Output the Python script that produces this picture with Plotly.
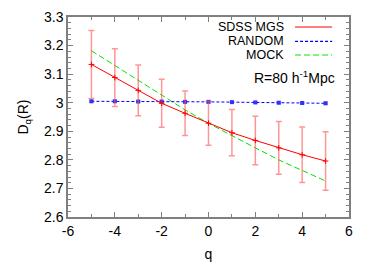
import plotly.graph_objects as go

q = [-5, -4, -3, -2, -1, 0, 1, 2, 3, 4, 5]
sdss = [3.134, 3.088, 3.043, 2.998, 2.963, 2.928, 2.895, 2.868, 2.842, 2.818, 2.796]
sdss_err = [0.119, 0.101, 0.089, 0.084, 0.078, 0.077, 0.081, 0.085, 0.092, 0.097, 0.102]
random_ = [3.005, 3.005, 3.004, 3.004, 3.003, 3.003, 3.002, 3.001, 3.000, 2.999, 2.998]
random_err = [0.004, 0.003, 0.003, 0.003, 0.003, 0.003, 0.003, 0.003, 0.003, 0.003, 0.004]
mock = [3.182, 3.130, 3.077, 3.025, 2.975, 2.928, 2.884, 2.842, 2.800, 2.762, 2.726]

legend_names = ["SDSS MGS", "RANDOM", "MOCK"]
x_ticks = [-6, -4, -2, 0, 2, 4, 6]
y_ticks = [2.6, 2.7, 2.8, 2.9, 3.0, 3.1, 3.2, 3.3]
y_tick_text = ["2.6", "2.7", "2.8", "2.9", "3", "3.1", "3.2", "3.3"]

FONT = "Liberation Sans, Arial, Helvetica, sans-serif"
FS = 14
KFS = 12.5

fig = go.Figure()
fig.add_trace(go.Scatter(
    x=q, y=mock, mode="lines", name=legend_names[2],
    line=dict(color="#00e600", width=1, dash="6px,3px"), showlegend=False))
fig.add_trace(go.Scatter(
    x=q, y=random_, mode="lines+markers", name=legend_names[1],
    line=dict(color="#0000ff", width=1, dash="3px,2px"),
    marker=dict(symbol="square", size=4, color="#3030ff"),
    error_y=dict(type="data", array=random_err, color="rgba(60,60,255,0.6)", thickness=1.2, width=2),
    showlegend=False))
fig.add_trace(go.Scatter(
    x=q, y=sdss, mode="lines+markers", name=legend_names[0],
    line=dict(color="#ff0000", width=1),
    marker=dict(symbol="cross-thin", size=4, color="#ff0000", line=dict(color="#ff0000", width=1)),
    error_y=dict(type="data", array=sdss_err, color="rgba(255,80,80,0.6)", thickness=1.5, width=3),
    showlegend=False))

# custom gnuplot-style key (text left of line sample)
key_y = [0.95, 0.8785, 0.81]
key_styles = [dict(color="#ff0000", width=1.2), dict(color="#0000ff", width=1.2, dash="3px,2px"),
              dict(color="#00e600", width=1.2, dash="6px,3px")]
for name, yy, st in zip(legend_names, key_y, key_styles):
    fig.add_annotation(xref="paper", yref="paper", x=0.776, y=yy, text=name,
                       showarrow=False, xanchor="right", yanchor="middle",
                       font=dict(family=FONT, size=KFS, color="black"))
    fig.add_shape(type="line", xref="paper", yref="paper", x0=0.808, x1=0.94, y0=yy, y1=yy,
                  line=st)
fig.add_annotation(xref="paper", yref="paper", x=0.956, y=0.70,
                   text="R=80 h<sup>-1</sup>Mpc", showarrow=False, xanchor="right",
                   yanchor="middle", font=dict(family=FONT, size=FS, color="black"))

axis_common = dict(showline=True, linecolor="#808080", linewidth=1.5, mirror="ticks",
                   ticks="inside", ticklen=5, tickcolor="#808080", tickwidth=1,
                   showgrid=False, zeroline=False, automargin=False,
                   tickfont=dict(family=FONT, size=FS, color="black"))
fig.update_xaxes(range=[-6, 6], tickvals=x_ticks, ticktext=[str(v) for v in x_ticks],
                 minor=dict(ticks="inside", dtick=1, ticklen=3, tickcolor="#808080"),
                 title=dict(text="q", font=dict(family=FONT, size=FS, color="black"), standoff=16),
                 **axis_common)
fig.update_yaxes(range=[2.6, 3.3], tickvals=y_ticks, ticktext=y_tick_text,
                 minor=dict(ticks="inside", dtick=0.02, ticklen=3, tickcolor="#808080"),
                 title=dict(text="D<sub>q</sub>(R)", font=dict(family=FONT, size=FS, color="black"), standoff=12),
                 **axis_common)
# page body has an 8px default margin; size/margins compensate so the plot area lands where the reference has it
fig.update_layout(width=366, height=254, margin=dict(l=60, r=25, t=9, b=45),
                  plot_bgcolor="white", paper_bgcolor="white", showlegend=False)
fig.write_html("out.html")
